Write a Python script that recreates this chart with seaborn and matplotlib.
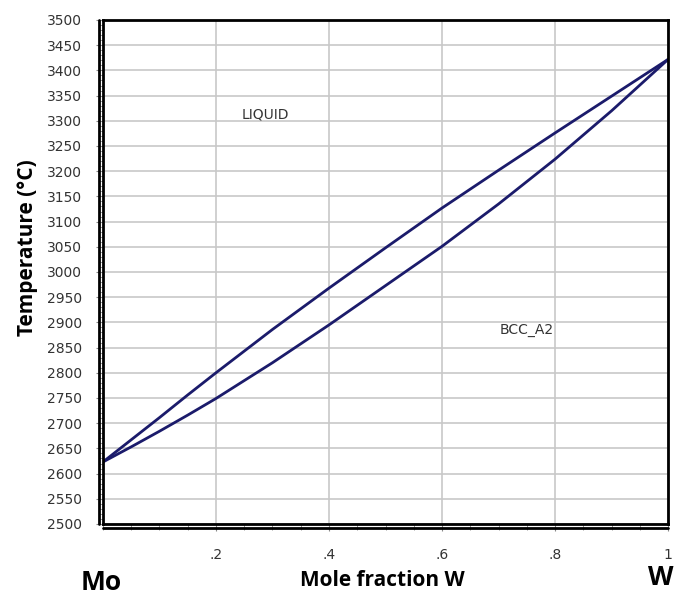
import numpy as np
import pandas as pd
import matplotlib
matplotlib.use("Agg")
import matplotlib.pyplot as plt
import matplotlib.transforms as mtransforms
from matplotlib.lines import Line2D
from matplotlib.ticker import MultipleLocator, FixedLocator
import seaborn as sns

# mole fraction of W and phase boundaries (degC)
x_w = [0, 0.05, 0.1, 0.15, 0.2, 0.3, 0.4, 0.5, 0.6, 0.7, 0.8, 0.9, 1.0]
liquidus = [2623, 2667, 2711, 2756, 2800, 2886, 2968, 3048, 3127, 3202, 3276, 3349, 3422]
solidus = [2623, 2653, 2684, 2716, 2749, 2820, 2895, 2973, 3051, 3135, 3224, 3320, 3422]

x_ticks = [0.2, 0.4, 0.6, 0.8, 1.0]
x_labels = [".2", ".4", ".6", ".8", "1"]
y_ticks = list(range(2500, 3501, 50))

sns.set_style("white")
plt.rcParams["font.family"] = ["DejaVu Sans"]

df = pd.DataFrame({"x": x_w, "liquidus": liquidus, "solidus": solidus})

fig = plt.figure(figsize=(6.77, 5.97), dpi=100)
ax = fig.add_axes([0.152, 0.1223, 0.835, 0.8442])

line_col = "#1b1b6b"
sns.lineplot(data=df, x="x", y="liquidus", ax=ax, color=line_col, lw=2)
sns.lineplot(data=df, x="x", y="solidus", ax=ax, color=line_col, lw=2)

ax.set_xlim(0, 1)
ax.set_ylim(2500, 3500)
ax.set_xlabel("")
ax.set_ylabel("")

# grid
ax.xaxis.set_major_locator(FixedLocator(x_ticks))
ax.set_xticklabels(x_labels)
ax.xaxis.set_minor_locator(MultipleLocator(0.05))
ax.set_yticks(y_ticks)
ax.yaxis.set_minor_locator(MultipleLocator(10))
ax.grid(True, which="major", color="#c8c8c8", lw=1.2)
ax.set_axisbelow(True)

for s in ax.spines.values():
    s.set_color("black")
    s.set_linewidth(2)
    s.set_visible(True)

ax.tick_params(axis="both", which="both", direction="out", color="#888888",
               labelcolor="#333333", labelsize=10)
ax.tick_params(axis="y", which="major", length=5, pad=10)
ax.tick_params(axis="y", which="minor", length=3)
ax.tick_params(axis="x", which="major", length=5, pad=12)
ax.tick_params(axis="x", which="minor", length=4)
ax.yaxis.set_tick_params(which="both", left=True)
ax.xaxis.set_tick_params(which="both", bottom=True)

# double frame on left and bottom
off_l = mtransforms.offset_copy(ax.transAxes, fig, x=-4, y=0, units="dots")
off_b = mtransforms.offset_copy(ax.transAxes, fig, x=0, y=-4, units="dots")
off_c = mtransforms.offset_copy(ax.transAxes, fig, x=-4, y=-4, units="dots")
ax.add_line(Line2D([0, 0], [0, 1], transform=off_l, color="black", lw=2, clip_on=False))
ax.add_line(Line2D([0, 1], [0, 0], transform=off_b, color="black", lw=2, clip_on=False))
ax.add_line(Line2D([0, 0], [0, 0], transform=off_c, color="black", lw=2, clip_on=False))

ax.text(0.287, 3313, "LIQUID", fontsize=10, color="#333333", ha="center", va="center")
ax.text(0.75, 2885, "BCC_A2", fontsize=10, color="#333333", ha="center", va="center")

bold = dict(fontweight="bold", color="black", family=["Open Sans", "DejaVu Sans"])
fig.text(0.04, 0.585, "Temperature (°C)", rotation=90, fontsize=15,
         ha="center", va="center", **bold)
fig.text(0.565, 0.028, "Mole fraction W", fontsize=15, ha="center", va="center", **bold)
fig.text(0.15, 0.025, "Mo", fontsize=19, ha="center", va="center", **bold)
fig.text(0.957, 0.032, "W", fontsize=19, ha="left", va="center", **bold)

fig.savefig("out.png", dpi=100)
